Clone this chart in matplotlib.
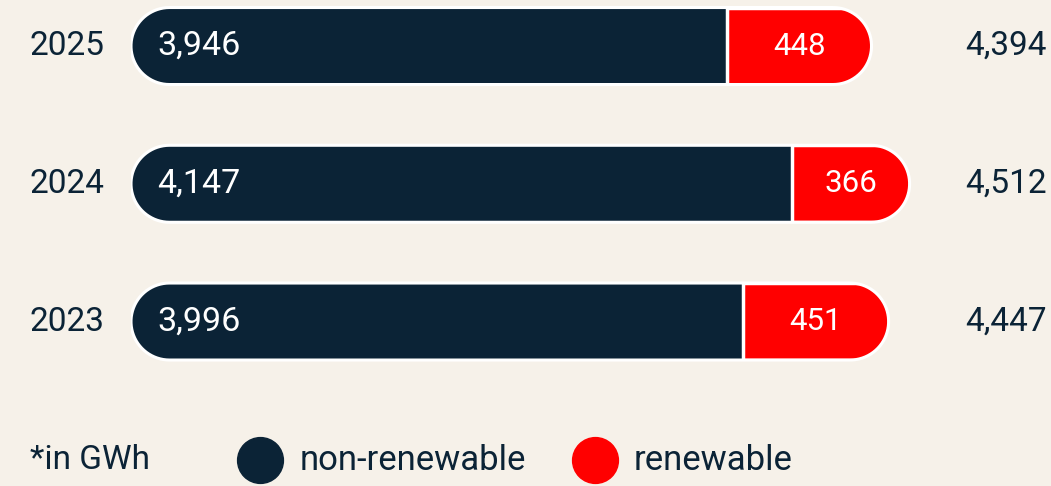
import numpy as np
import matplotlib.pyplot as plt
import matplotlib.transforms as mtransforms
from matplotlib.patches import Polygon
from matplotlib.lines import Line2D

years = ["2023", "2024", "2025"]
non_renewable = [3996, 4147, 3946]
renewable = [451, 366, 448]
totals = [4447, 4512, 4394]

navy = "#0b2336"
red = "#ff0000"
bg = "#f6f1e9"

plt.rcParams['font.family'] = ['Roboto', 'DejaVu Sans']

W, H = 1051, 486
fig = plt.figure(figsize=(W / 100, H / 100), dpi=100)
fig.patch.set_facecolor(bg)

# axes placed in pixel terms, bars start at the axes' left edge
ax = fig.add_axes([131 / W, 95.6 / H, 920 / W, 385.7 / H])
ax.set_facecolor("none")
x0, x1 = 2100, 4950
ax.set_xlim(x0, x1)
ax.set_ylim(-0.5, 2.3)
ax.axis("off")

bar_h = 0.559
sx = 920 / (x1 - x0)          # px per x unit
sy = 385.7 / 2.8              # px per y unit
hh = bar_h / 2
r_x = hh * sy / sx            # radius of the rounded ends in x units


def pill(y, start, end):
    # outline with fully rounded ends, in data coords
    t1 = np.linspace(np.pi / 2, 3 * np.pi / 2, 40)
    t2 = np.linspace(-np.pi / 2, np.pi / 2, 40)
    xs = np.concatenate([start + r_x + r_x * np.cos(t1), end - r_x + r_x * np.cos(t2)])
    ys = np.concatenate([y + hh * np.sin(t1), y + hh * np.sin(t2)])
    return np.column_stack([xs, ys])


label_off = mtransforms.offset_copy(ax.transData, fig, x=26, y=0, units='dots')

for i, (yr, nr, rn, tot) in enumerate(zip(years, non_renewable, renewable, totals)):
    shape = Polygon(pill(i, x0, tot), closed=True, facecolor="none",
                    edgecolor="white", linewidth=2.2, zorder=5)
    ax.add_patch(shape)
    b1 = ax.barh(i, nr, height=bar_h, color=navy, zorder=3)
    b2 = ax.barh(i, rn, left=nr, height=bar_h, color=red,
                 edgecolor="white", linewidth=2.5, zorder=3)
    for b in list(b1) + list(b2):
        b.set_clip_path(shape)

    ax.text(x0, i, f"{nr:,}", transform=label_off, color="white",
            fontsize=24.5, va="center", ha="left", zorder=6)
    ax.text(nr + rn / 2, i, f"{rn:,}", color="white", fontsize=22.5,
            va="center", ha="center", zorder=6)
    ax.text(0.9065, i, f"{tot:,}", transform=ax.get_yaxis_transform(),
            color=navy, fontsize=24, va="center", ha="left")
    ax.text(-0.1098, i, yr, transform=ax.get_yaxis_transform(),
            color=navy, fontsize=24, va="center", ha="left")

# legend row
ly = (H - 460) / H
fig.text(30 / W, ly, "*in GWh", color=navy, fontsize=24, va="center", ha="left")
for cx, col, lab, tx in [(260, navy, "non-renewable", 300), (595, red, "renewable", 634)]:
    fig.add_artist(Line2D([cx / W], [ly], marker="o", markersize=33,
                          color=col, linestyle="none", transform=fig.transFigure))
    fig.text(tx / W, ly, lab, color=navy, fontsize=25, va="center", ha="left")

fig.savefig("out.png", dpi=100, facecolor=bg)
